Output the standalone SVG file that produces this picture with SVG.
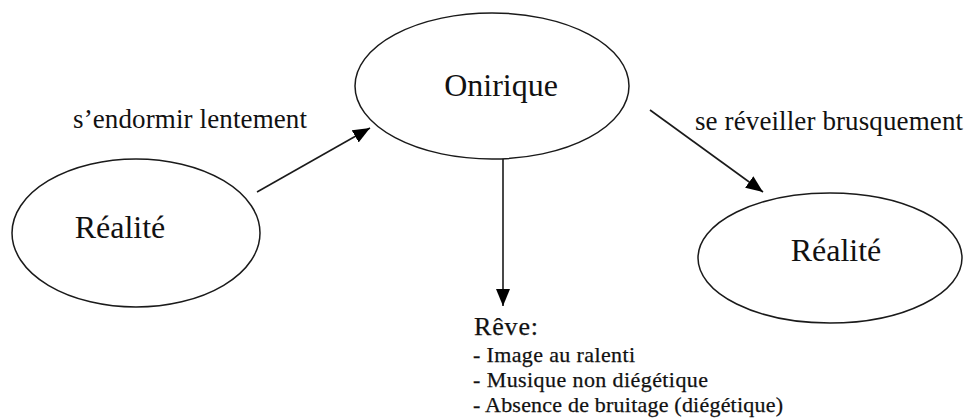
<svg xmlns="http://www.w3.org/2000/svg" width="966" height="418" viewBox="0 0 966 418">
<style>
.node ellipse{fill:#fff;stroke:#1a1a1a;stroke-width:1.5}
.conn line{stroke:#1a1a1a;stroke-width:1.6}
text{font-family:"Liberation Serif","Times New Roman",serif;fill:#111}
.big{font-size:32px}
.edge{font-size:27px}
.list{font-size:22px;stroke:#111;stroke-width:0.25}
</style>
<defs>
<marker id="ah" markerUnits="userSpaceOnUse" markerWidth="18" markerHeight="14" refX="17" refY="7" orient="auto">
<path d="M0,0 L17,7 L0,14 z" fill="#000"/>
</marker>
</defs>
<rect width="966" height="418" fill="#fff"/>
<g id="onirique" class="node">
<ellipse cx="492" cy="86" rx="137" ry="73"/>
<text class="big" x="501" y="96" text-anchor="middle">Onirique</text>
</g>
<g id="realite-gauche" class="node">
<ellipse cx="136" cy="233" rx="124" ry="74"/>
<text class="big" x="120" y="238" text-anchor="middle">Réalité</text>
</g>
<g id="realite-droite" class="node">
<ellipse cx="830" cy="258" rx="132" ry="65"/>
<text class="big" x="836" y="261" text-anchor="middle">Réalité</text>
</g>
<g id="connecteurs" class="conn">
<line x1="257" y1="192" x2="370" y2="128" marker-end="url(#ah)"/>
<line x1="650" y1="110" x2="763" y2="192" marker-end="url(#ah)"/>
<line x1="503" y1="159" x2="503" y2="306" marker-end="url(#ah)"/>
</g>
<g id="labels">
<text class="edge" x="73" y="128" textLength="234">s’endormir lentement</text>
<text class="edge" x="695" y="130" textLength="268">se réveiller brusquement</text>
</g>
<g id="reve">
<text class="list" x="474" y="335" style="font-size:26px" textLength="64">Rêve:</text>
<text class="list" x="473" y="362" textLength="162">- Image au ralenti</text>
<text class="list" x="473" y="387" textLength="235">- Musique non diégétique</text>
<text class="list" x="473" y="412" textLength="310">- Absence de bruitage (diégétique)</text>
</g>
</svg>
